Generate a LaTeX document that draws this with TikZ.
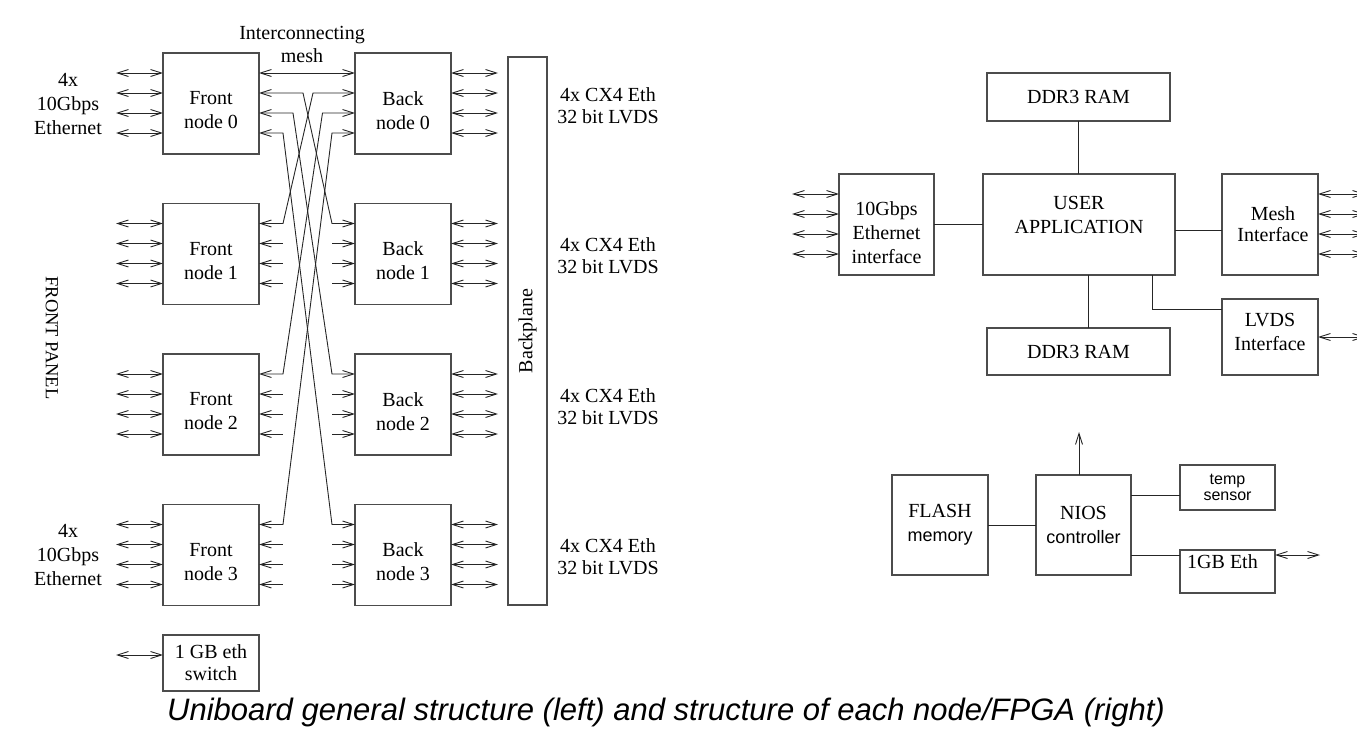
\documentclass[tikz,border=0pt]{standalone}
\usepackage{fontspec}
\setmainfont{Liberation Serif}
\newfontfamily\capfont{Liberation Sans}
\newfontfamily\sansx{Liberation Sans}
\usetikzlibrary{arrows.meta,calc}
\tikzset{
  bb/.tip={Straight Barb[length=11pt,width=7pt]},
  box/.style={draw=black!70,line width=1.2pt,inner sep=0pt,outer sep=0pt},
  txt/.style={font=\fontsize{20}{24}\selectfont,align=center,inner sep=0pt},
  con/.style={draw=black!85,line width=0.9pt},
  dbl/.style={con,bb-bb},
  la/.style={con,bb-},
  ra/.style={con,-bb}
}
\begin{document}
\begin{tikzpicture}[x=1pt,y=-1pt]
\useasboundingbox (0,0) rectangle (1357,731);
\clip (0,0) rectangle (1357,731);
% ---------- left: board structure ----------
\foreach \i in {0,1,2,3}{
  \pgfmathsetmacro\cy{103.5+150.5*\i}
  \node[box,minimum width=96pt,minimum height=101pt,label={[txt,yshift=-7pt]center:Front\\node \i}] (F\i) at (211,\cy) {};
  \node[box,minimum width=96pt,minimum height=101pt,label={[txt,yshift=-7pt]center:Back\\node \i}] (B\i) at (403,\cy) {};
  \node[txt,font=\fontsize{20}{22}\selectfont] (R\i) at (608,\cy+2) {4x CX4 Eth\\32 bit LVDS};
  \foreach \r in {1,...,4}{
    \draw[dbl] ($(F\i.north west)+(-47,20*\r)$) -- ($(F\i.north west)+(0,20*\r)$);
    \draw[dbl] ($(B\i.north east)+(0,20*\r)$) -- ($(B\i.north east)+(47,20*\r)$);
  }
}
% mesh
\draw[dbl] ($(F0.north east)+(0,20)$) -- ($(B0.north west)+(0,20)$);
\foreach \i in {1,2,3}{
  \pgfmathsetmacro\xb{313+9.5*(\i-1)-355}
  \pgfmathsetmacro\xf{303-10*(\i-1)-259}
  \draw[dbl] ($(F\i.north east)+(0,20)$) -- ($(F\i.north east)+(24,20)$)
     -- ($(B0.north west)+(\xb,20*\i+20)$) -- ($(B0.north west)+(0,20*\i+20)$);
  \draw[dbl] ($(F0.north east)+(0,20*\i+20)$) -- ($(F0.north east)+(\xf,20*\i+20)$)
     -- ($(B\i.north west)+(-23,20)$) -- ($(B\i.north west)+(0,20)$);
  \foreach \r in {2,3,4}{
    \draw[la] ($(F\i.north east)+(0,20*\r)$) -- ($(F\i.north east)+(24,20*\r)$);
    \draw[ra] ($(B\i.north west)+(-23,20*\r)$) -- ($(B\i.north west)+(0,20*\r)$);
  }
}
\node[box,minimum width=39pt,minimum height=548pt,label={[txt,rotate=90]center:Backplane}] (BP) at (527.5,331) {};
\node[txt,font=\fontsize{20}{24}\selectfont] (E0) at (68,104) {4x\\10Gbps\\Ethernet};
\node[txt,font=\fontsize{20}{24}\selectfont] (E3) at (68,555) {4x\\10Gbps\\Ethernet};
\node[txt,font=\fontsize{18.5}{20}\selectfont,rotate=-90] (FP) at (52,338) {FRONT PANEL};
\node[txt,font=\fontsize{20}{23}\selectfont] (IM) at (302,44) {Interconnecting\\mesh};
\node[box,minimum width=96pt,minimum height=56pt,label={[txt,font=\fontsize{20}{22}\selectfont]center:1 GB eth\\switch}] (SW) at (211,663) {};
\draw[dbl] ($(SW.north west)+(-47,20)$) -- ($(SW.north west)+(0,20)$);
% ---------- right: node structure ----------
\node[box,minimum width=183pt,minimum height=48pt,label={[txt]center:DDR3 RAM}] (D1) at (1078.5,97) {};
\node[box,minimum width=192pt,minimum height=101pt,label={[txt,yshift=9.5pt]center:USER\\APPLICATION}] (UA) at (1079,224.5) {};
\node[box,minimum width=95pt,minimum height=101pt,label={[txt,yshift=-8.5pt]center:10Gbps\\Ethernet\\interface}] (EI) at (886.5,224.5) {};
\node[box,minimum width=96pt,minimum height=101pt,label={[txt,font=\fontsize{20}{21}\selectfont,xshift=3pt]center:Mesh\\Interface}] (MI) at (1270,224.5) {};
\node[box,minimum width=183pt,minimum height=47pt,label={[txt]center:DDR3 RAM}] (D2) at (1078.5,351.5) {};
\node[box,minimum width=96pt,minimum height=76pt,label={[txt,yshift=5pt]center:LVDS\\Interface}] (LV) at (1270,337) {};
\draw[con] (D1.south) -- (D1.south |- UA.north);
\draw[con] (EI.east) -- (UA.west);
\draw[con] (UA.east |- 0,230) -- (MI.west |- 0,230);
\draw[con] (UA.south -| 1088,0) -- (D2.north -| 1088,0);
\draw[con] (UA.south -| 1152,0) |- (LV.west |- 0,309);
\foreach \r in {1,...,4}{
  \draw[dbl] ($(EI.north west)+(-47,20*\r)$) -- ($(EI.north west)+(0,20*\r)$);
  \draw[dbl] ($(MI.north east)+(0,20*\r)$) -- ($(MI.north east)+(47,20*\r)$);
}
\draw[dbl] (LV.east) -- ($(LV.east)+(47,0)$);
% ---------- NIOS subsystem ----------
\node[box,minimum width=96pt,minimum height=100pt,label={[txt]center:FLASH\\{\sansx\fontsize{18}{20}\selectfont memory}}] (FL) at (940,525) {};
\node[box,minimum width=95pt,minimum height=100pt,label={[txt]center:NIOS\\{\sansx\fontsize{18}{20}\selectfont controller}}] (NC) at (1083.5,525) {};
\node[box,minimum width=95pt,minimum height=45pt,label={[txt,font=\sansx\fontsize{16}{16}\selectfont]center:temp\\sensor}] (TS) at (1227.5,487.5) {};
\node[box,minimum width=95pt,minimum height=43pt,label={[txt,xshift=-5pt,yshift=10pt]center:1GB Eth}] (GE) at (1227.5,571.5) {};
\coordinate (UP) at (1079,432);
\draw[con] (FL.east) -- (NC.west);
\draw[con] (NC.east |- 0,495) -- (TS.west |- 0,495);
\draw[con] (NC.east |- 0,555) -- (GE.west |- 0,555);
\draw[ra] (NC.north -| UP) -- (UP);
\draw[dbl] (GE.east |- 0,555) -- ($(GE.east |- 0,555)+(45,0)$);
% caption
\node[font=\capfont\itshape\fontsize{31}{33}\selectfont,anchor=base,inner sep=0pt] (CAP) at (666,720) {Uniboard general structure (left) and structure of each node/FPGA (right)};
\end{tikzpicture}
\end{document}
